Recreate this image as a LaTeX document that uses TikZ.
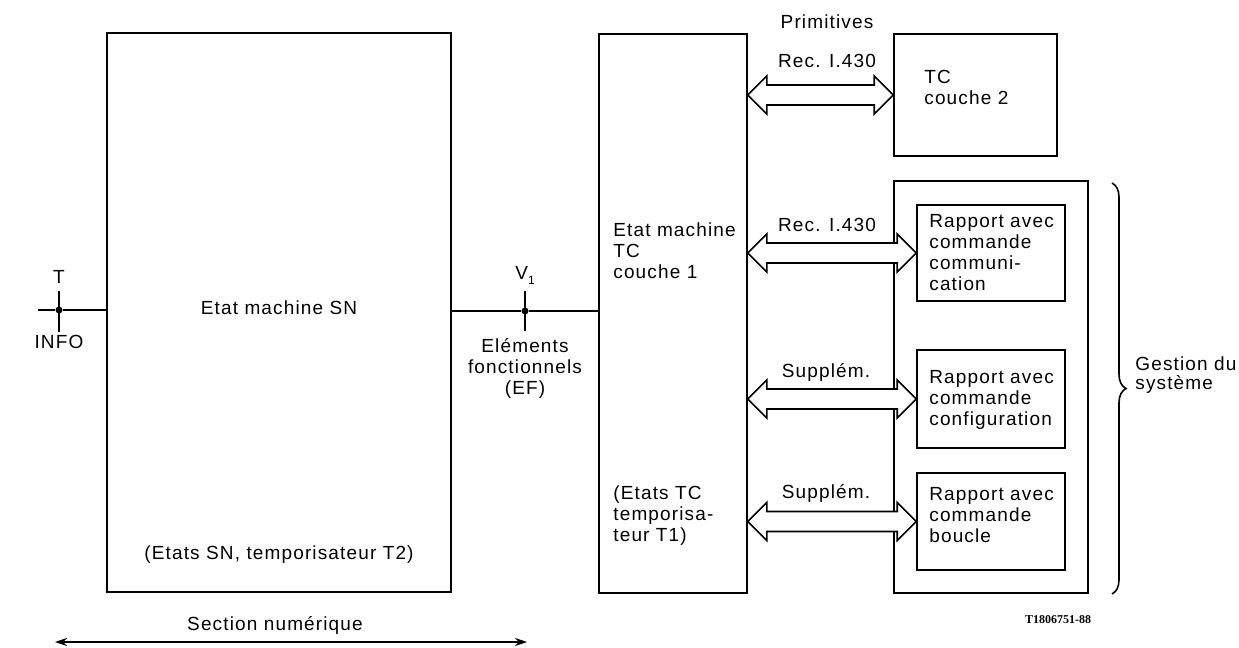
\documentclass[tikz,border=0pt]{standalone}
\usepackage{fontspec}
\setmainfont{Liberation Sans}[LetterSpace=6]
\newfontfamily\codefont{Liberation Serif}
\usetikzlibrary{fit,calc,decorations.pathreplacing,arrows.meta}
\newcommand\dblarr[2]{%
  \draw[line width=0.8pt, fill=white, line join=miter]
    (#1) -- ++(19,-19) -- ++(0,9) -- ($(#2)+(-19,-10)$) -- ++(0,-9) -- (#2)
    -- ++(-19,19) -- ++(0,-9) -- ($(#1)+(19,10)$) -- ++(0,9) -- cycle;}
\begin{document}
\begin{tikzpicture}[x=0.5pt,y=-0.5pt,
  box/.style={draw, line width=0.8pt, inner sep=0pt},
  txt/.style={font=\fontsize{9.5}{10.5}\selectfont, inner sep=0pt, align=left},
  ctxt/.style={font=\fontsize{9.5}{10.5}\selectfont, inner sep=0pt, align=center},
  wire/.style={line width=0.8pt},
  dot/.style={circle, fill, inner sep=0pt, minimum size=3.5pt}]
\useasboundingbox (0,0) rectangle (1239,648);

% main boxes
\node[box, fit={(107,33) (451,592)}] (sn) {};
\node[box, fit={(599,34) (747,593)}] (tc1) {};
\node[box, fit={(894,34) (1057,156)}] (tc2) {};
\node[box, fit={(894,181) (1088,593)}] (gs) {};
\node[box, fit={(917,205) (1065,301)}] (r1) {};
\node[box, fit={(917,350) (1065,448)}] (r2) {};
\node[box, fit={(917,473) (1065,570)}] (r3) {};

% texts in boxes
\node[ctxt] (snt) at (279,308) {Etat machine SN};
\node[ctxt] (snb) at (279,555) {(Etats SN, temporisateur T2)};
\node[txt, anchor=north west] (tc1t) at (613,222) {Etat machine\\TC\\couche 1};
\node[txt, anchor=north west] (tc1b) at (613,485) {(Etats TC\\temporisa-\\teur T1)};
\node[txt, anchor=north west] (tc2t) at (924,70) {TC\\couche 2};
\node[txt, anchor=north west] (r1t) at (929,214) {Rapport avec\\commande\\communi-\\cation};
\node[txt, anchor=north west] (r2t) at (929,370) {Rapport avec\\commande\\configuration};
\node[txt, anchor=north west] (r3t) at (929,487) {Rapport avec\\commande\\boucle};

% double arrows
\coordinate (a1) at (tc1.east |- tc2.west);
\coordinate (a2) at (tc1.east |- r1.west);
\coordinate (a3) at (tc1.east |- r2.west);
\coordinate (a4) at (tc1.east |- r3.west);
\dblarr{a1}{tc2.west}
\dblarr{a2}{r1.west}
\dblarr{a3}{r2.west}
\dblarr{a4}{r3.west}
\node[ctxt] (prim) at (827,22) {Primitives};
\node[ctxt] (l1) at (827,61) {Rec. I.430};
\node[ctxt] (l2) at (827,225) {Rec. I.430};
\node[ctxt] (l3) at (826,372) {Supplém.};
\node[ctxt] (l4) at (826,493) {Supplém.};

% T reference point
\coordinate (tin) at (38,310);
\node[dot] (tj) at (59,310) {};
\draw[wire] (tin) -- (tj) -- (tj -| sn.west);
\coordinate (tt) at (59,291);
\coordinate (tb) at (59,332);
\draw[wire] (tt) -- (tb);
\node[ctxt] (tl) at (59,277) {T};
\node[ctxt] (info) at (59,342) {INFO};

% V1 reference point
\node[dot] (vj) at (525,311) {};
\draw[wire] (sn.east |- vj) -- (vj) -- (tc1.west |- vj);
\coordinate (vt) at (525,291);
\coordinate (vb) at (525,331);
\draw[wire] (vt) -- (vb);
\node[ctxt] (vl) at (525,275) {V\raisebox{-2.5pt}{\fontsize{6}{6}\selectfont 1}};
\node[ctxt, anchor=north] (ef) at (525,338) {Eléments\\fonctionnels\\(EF)};

% brace
\coordinate (bt) at (1112,183);
\coordinate (bb) at (1112,594);
\draw[decorate, decoration={brace, amplitude=7pt}, line width=0.8pt] (bt) -- (bb);
\node[txt, anchor=north west, font=\fontsize{9.5}{9.5}\selectfont] (gl) at (1135,356) {Gestion du\\système};

% section numerique
\coordinate (sl) at (55,642);
\coordinate (sr) at (527,642);
\draw[line width=0.6pt, {Stealth[length=6pt,width=4pt]}-{Stealth[length=6pt,width=4pt]}] (sl) -- (sr);
\node[ctxt] (sec) at (275,625) {Section numérique};

\node[inner sep=0pt, font=\codefont\bfseries\fontsize{6}{7}\selectfont] (code) at (1058,620) {T1806751-88};
\end{tikzpicture}
\end{document}
